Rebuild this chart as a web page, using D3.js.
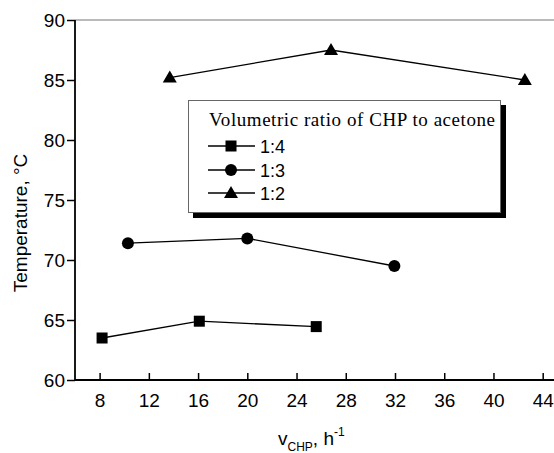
<!DOCTYPE html>
<html><head><meta charset="utf-8">
<script src="https://cdn.jsdelivr.net/npm/d3@7/dist/d3.min.js"></script>
<style>body{margin:0;background:#fff}svg{display:block}</style>
</head><body>
<script>
const xTicks = [8,12,16,20,24,28,32,36,40,44];
const yTicks = [60,65,70,75,80,85,90];
const ratios = ["1:4","1:3","1:2"];
const vs14 = [8.2, 16.1, 25.6];
const t14 = [63.5, 64.9, 64.45];
const vs13 = [10.3, 20.0, 31.95];
const t13 = [71.4, 71.8, 69.5];
const vs12 = [13.7, 26.8, 42.55];
const t12 = [85.2, 87.5, 85.0];
const legendTitle = "Volumetric ratio of CHP to acetone";

const W=554,H=453;
const svg=d3.select("body").append("svg").attr("width",W).attr("height",H);
const x=d3.scaleLinear().domain([6,45]).range([75,555]);
const y=d3.scaleLinear().domain([60,90]).range([380,20]);
const sans="'Liberation Sans', Arial, sans-serif";
const serif="'Liberation Serif', 'Times New Roman', serif";

// top border
svg.append("line").attr("x1",75).attr("x2",W).attr("y1",y(90)).attr("y2",y(90)).attr("stroke","#777").attr("stroke-width",1.2);

// x axis (inward ticks)
const xa=svg.append("g").attr("transform","translate(0,380)")
 .call(d3.axisBottom(x).tickValues(xTicks).tickSize(0).tickPadding(14));
xa.select(".domain").remove();
xa.selectAll(".tick line").remove();
xa.selectAll(".tick").append("line").attr("y1",0).attr("y2",-7).attr("stroke","#000").attr("stroke-width",1.5);
xa.selectAll("text").attr("font-family",sans).attr("font-size",19).attr("fill","#000").attr("dy","0.71em");
svg.append("line").attr("x1",75).attr("x2",W).attr("y1",380).attr("y2",380).attr("stroke","#000").attr("stroke-width",1.8);

// y axis
const ya=svg.append("g").attr("transform","translate(75,0)")
 .call(d3.axisLeft(y).tickValues(yTicks).tickSize(8).tickPadding(2));
ya.select(".domain").remove();
ya.selectAll(".tick line").attr("stroke","#000").attr("stroke-width",1.5);
ya.selectAll("text").attr("font-family",sans).attr("font-size",19).attr("fill","#000");
svg.append("line").attr("x1",75).attr("x2",75).attr("y1",20).attr("y2",381).attr("stroke","#000").attr("stroke-width",1.8);

// axis titles
svg.append("text").attr("transform","translate(27,223) rotate(-90)").attr("text-anchor","middle")
 .attr("font-family",sans).attr("font-size",19).text("Temperature, °C");
const xt=svg.append("text").attr("x",278).attr("y",445).attr("font-family",sans).attr("font-size",19);
xt.append("tspan").text("v");
xt.append("tspan").attr("font-size",12).attr("dy",6).text("CHP");
xt.append("tspan").attr("dy",-6).text(", h");
xt.append("tspan").attr("font-size",12).attr("dy",-9).text("-1");

// series
const series=[
 {v:vs14,t:t14,shape:"square"},
 {v:vs13,t:t13,shape:"circle"},
 {v:vs12,t:t12,shape:"triangle"}
];
const line=d3.line().x(d=>x(d[0])).y(d=>y(d[1]));
function marker(g,shape,cx,cy){
  if(shape==="square") g.append("rect").attr("x",cx-5.5).attr("y",cy-5.5).attr("width",11).attr("height",11).attr("fill","#000");
  else if(shape==="circle") g.append("circle").attr("cx",cx).attr("cy",cy).attr("r",6).attr("fill","#000");
  else g.append("path").attr("d",`M${cx},${cy-7}L${cx+7},${cy+5}L${cx-7},${cy+5}Z`).attr("fill","#000");
}
series.forEach(s=>{
  const pts=s.v.map((v,i)=>[v,s.t[i]]);
  svg.append("path").attr("d",line(pts)).attr("fill","none").attr("stroke","#000").attr("stroke-width",1.3);
  pts.forEach(p=>marker(svg,s.shape,x(p[0]),y(p[1])));
});

// legend
const lg=svg.append("g");
lg.append("rect").attr("x",193).attr("y",105).attr("width",313).attr("height",113).attr("fill","#000");
lg.append("rect").attr("x",188.5).attr("y",100.5).attr("width",312).attr("height",112).attr("fill","#fff").attr("stroke","#666").attr("stroke-width",1);
lg.append("text").attr("x",209).attr("y",126).attr("font-family",serif).attr("font-size",19)
  .attr("textLength",286).attr("lengthAdjust","spacing").text(legendTitle);
const rowsY=[146,170,193];
ratios.forEach((r,i)=>{
  const cy=rowsY[i];
  lg.append("line").attr("x1",208).attr("x2",255).attr("y1",cy).attr("y2",cy).attr("stroke","#000").attr("stroke-width",1.3);
  marker(lg,series[i].shape,231,cy);
  lg.append("text").attr("x",260).attr("y",cy+6.5).attr("font-family",sans).attr("font-size",18).text(r);
});
</script>
</body></html>
